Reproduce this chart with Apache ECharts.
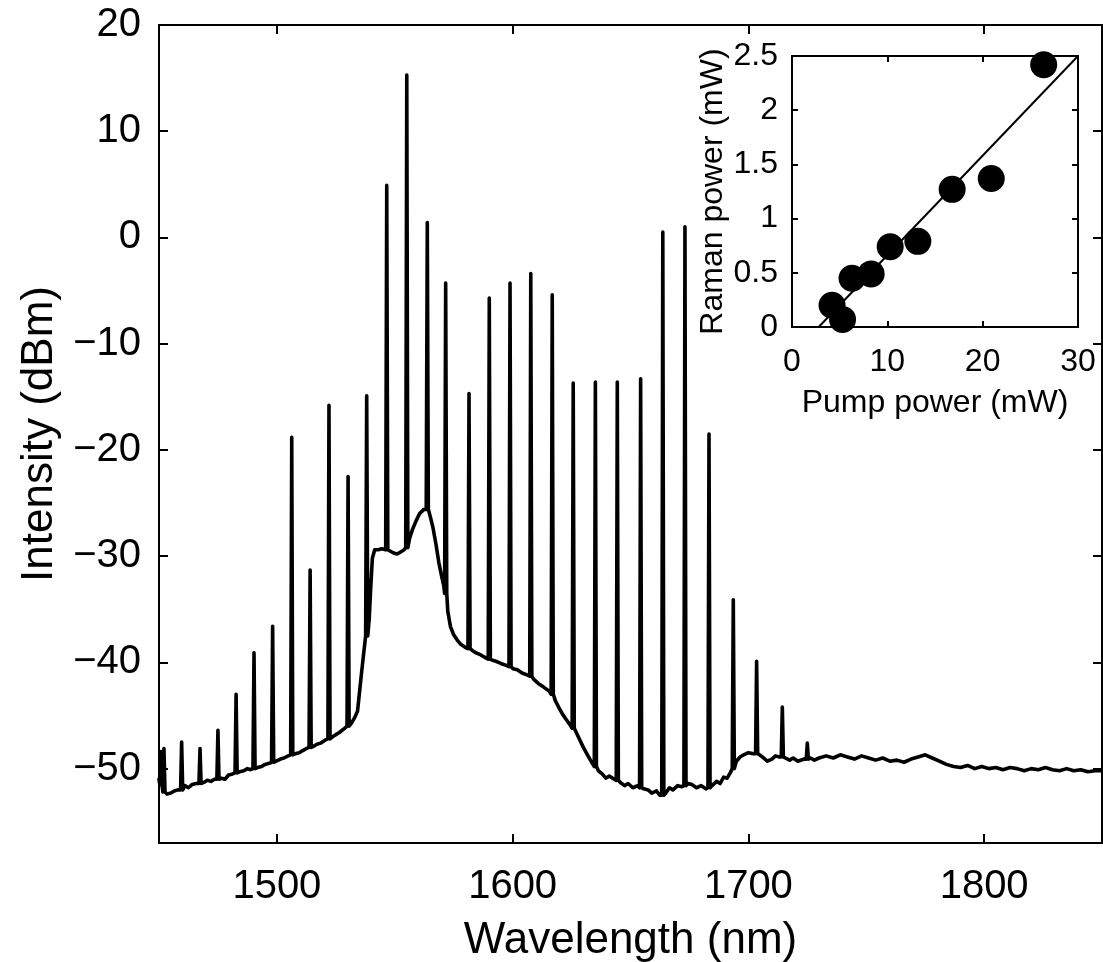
<!DOCTYPE html>
<html><head><meta charset="utf-8">
<script src="https://cdn.jsdelivr.net/npm/echarts@6/dist/echarts.min.js"></script>
<style>html,body{margin:0;padding:0;background:#fff}#c{width:1103px;height:962px}</style>
</head><body><div id="c"></div>
<script>
// Main spectrum: baseline (nm, dBm)
const baseline = [
[1450,-51.0],[1453.4,-52.4],[1455,-52.3],[1456.5,-52.1],[1458,-52.0],[1461,-51.6],[1462.5,-51.8],[1464,-51.5],[1465.8,-51.4],
[1469,-51.3],[1470.5,-51.1],[1472,-51.2],[1473.5,-51.0],[1476.5,-50.9],[1478,-51.0],[1479.5,-50.6],[1481.2,-50.5],
[1484.2,-50.3],[1486,-50.2],[1487.5,-50.0],[1488.8,-50.1],[1491.8,-49.9],[1493.5,-49.8],[1495,-49.6],[1496.7,-49.5],
[1499.7,-49.3],[1501.5,-49.1],[1503,-49.0],[1504.8,-48.8],[1507.8,-48.6],[1509.5,-48.5],[1511,-48.3],[1512.6,-48.1],
[1515.6,-47.9],[1517,-47.7],[1518.5,-47.6],[1520.6,-47.3],[1523.6,-47.0],[1525,-46.8],[1526.5,-46.6],[1528.7,-46.2],
[1531.7,-45.7],[1533,-45.2],[1534.2,-44.6],[1535.2,-42.5],[1536,-40.8],[1537,-38.8],
[1539.2,-35.8],[1539.8,-33.0],[1540.5,-30.2],[1541.5,-29.4],[1543,-29.4],[1544.5,-29.3],
[1547.8,-29.5],[1549.5,-29.7],[1551,-29.8],[1552.5,-29.6],[1554,-29.4],
[1556.3,-28.3],[1557.5,-27.5],[1559,-26.7],[1560.5,-26.0],[1562.4,-25.6],
[1565.1,-26.3],[1566.2,-27.3],[1567.5,-28.9],[1568.7,-30.6],[1569.8,-31.8],[1570.8,-32.8],
[1572.5,-35.2],[1573.6,-36.6],[1575,-37.4],[1576.5,-37.9],[1578,-38.3],[1580,-38.6],
[1583,-38.9],[1584.5,-39.1],[1586.5,-39.3],[1588.8,-39.6],
[1591.4,-39.8],[1593,-39.9],[1595,-40.1],[1597.6,-40.3],
[1600.2,-40.6],[1602,-40.7],[1604,-41.0],[1606.4,-41.2],
[1609,-41.6],[1611,-42.0],[1613,-42.3],[1615.5,-42.7],
[1618.1,-43.6],[1619.5,-44.2],[1621,-44.8],[1622.5,-45.3],[1624.4,-45.9],
[1627,-46.6],[1628.5,-47.3],[1630,-48.0],[1631.5,-48.6],[1633.8,-49.5],
[1636.4,-50.2],[1638,-50.5],[1639.5,-50.9],[1641,-50.7],[1643.1,-51.0],
[1645.7,-51.3],[1647.5,-51.6],[1649,-51.4],[1651,-51.8],[1653,-51.6],
[1655.6,-51.9],[1657.5,-52.0],[1659,-52.3],[1661,-52.1],[1662.4,-52.5],
[1665,-52.3],[1666.5,-51.8],[1668,-52.0],[1670,-51.6],[1671.8,-51.7],
[1674.4,-51.4],[1676,-51.5],[1678,-51.8],[1680,-51.6],[1682,-51.9],
[1684.6,-51.6],[1686.5,-51.2],[1688,-51.4],[1689.5,-50.8],[1691,-50.9],[1692.3,-50.4],
[1694.9,-49.3],[1696.5,-48.9],[1698,-48.7],[1700,-48.5],[1702.2,-48.6],
[1704.8,-48.7],[1706.5,-49.0],[1708,-49.3],[1710,-49.1],[1711.5,-48.8],[1713.1,-48.9],
[1715.7,-49.0],[1717.5,-49.2],[1719,-49.0],[1721,-49.3],[1723.7,-49.1],
[1726.3,-49.0],[1728,-49.2],[1730,-49.0],[1733,-48.8],[1736,-49.0],[1739,-48.7],[1742,-48.9],[1745,-49.1],
[1748,-48.8],[1751,-49.0],[1754,-49.2],[1757,-49.0],[1760,-49.3],[1763,-49.2],[1766,-49.4],[1769,-49.1],
[1772,-48.9],[1775,-48.7],[1778,-49.0],[1781,-49.3],[1784,-49.6],[1787,-49.8],[1790,-49.9],[1793,-49.7],
[1796,-50.0],[1799,-49.8],[1802,-50.0],[1805,-49.9],[1808,-50.1],[1811,-49.9],[1814,-50.0],[1817,-50.2],
[1820,-50.0],[1823,-50.1],[1826,-49.9],[1829,-50.1],[1832,-50.2],[1835,-50.0],[1838,-50.2],[1841,-50.1],
[1844,-50.3],[1847,-50.2],[1850,-50.2]
];
// Spectral lines: [wavelength nm, foot level dBm, peak level dBm]
const peaks = [
[1450.8,-51.5,-48.4],[1452.1,-52.2,-48.1],[1459.6,-52.0,-47.5],[1467.4,-51.4,-48.1],[1475.0,-51.0,-46.4],
[1482.7,-50.4,-43.0],[1490.3,-50.0,-39.1],[1498.2,-49.4,-36.6],[1506.3,-48.7,-18.8],[1514.1,-48.0,-31.3],
[1522.1,-47.2,-15.8],[1530.2,-46.0,-22.5],[1538.1,-37.5,-14.9],[1546.6,-29.4,4.9],[1555.1,-29.2,15.3],
[1563.8,-25.6,1.4],[1571.6,-33.5,-4.3],[1581.5,-38.7,-14.7],[1590.1,-39.7,-5.7],[1598.9,-40.4,-4.3],
[1607.7,-41.3,-3.4],[1616.8,-43.0,-5.4],[1625.7,-46.2,-13.7],[1635.1,-49.8,-13.6],[1644.4,-51.1,-13.6],
[1654.3,-51.8,-13.3],[1663.7,-52.5,0.5],[1673.1,-51.6,1.0],[1683.3,-51.8,-18.5],[1693.6,-50.0,-34.1],
[1703.5,-48.6,-39.9],[1714.4,-48.9,-44.2],[1725.0,-49.1,-47.6]
];
const xTicks = [1500, 1600, 1700, 1800];
const yTicks = [-50, -40, -30, -20, -10, 0, 10, 20];
// Inset
const pumpPower  = [4.2, 5.3, 6.3, 8.3, 10.3, 13.2, 16.8, 20.9, 26.4];
const ramanPower = [0.20, 0.07, 0.45, 0.49, 0.74, 0.79, 1.27, 1.37, 2.42];
const fitLine = [[2.8, 0], [30, 2.5]];

const HW = 0.45; // half width of a line foot (nm)
let pts = baseline.filter(b => !peaks.some(p => Math.abs(b[0]-p[0]) < HW+0.05)).map(b => [b[0], b[1]]);
peaks.forEach(p => { pts.push([p[0]-HW, p[1]]); pts.push([p[0], p[2]]); pts.push([p[0]+HW, p[1]]); });
pts.sort((a,b) => a[0]-b[0]);

const FONT = 'Liberation Sans, Arial, Helvetica, sans-serif';
const minus = v => String(v).replace('-', '\u2212');
const plain = v => String(v);
const axLine = {show:true, onZero:false, lineStyle:{color:'#000', width:2}};

const chart = echarts.init(document.getElementById('c'), null, {renderer:'canvas'});
chart.setOption({
  animation:false,
  backgroundColor:'#fff',
  grid:[
    {left:159, right:1, top:25, bottom:119, containLabel:false, outerBoundsMode:'none', show:true, borderColor:'#000', borderWidth:2, backgroundColor:'transparent'},
    {left:792, top:56, width:286, height:271, containLabel:false, outerBoundsMode:'none', show:true, backgroundColor:'#fff', borderColor:'#000', borderWidth:2}
  ],
  xAxis:[
    {type:'value', gridIndex:0, min:1450, max:1850, position:'bottom', axisLine:axLine,
     axisTick:{inside:true, length:9, customValues:xTicks, lineStyle:{color:'#000', width:2}},
     axisLabel:{customValues:xTicks, fontSize:40, color:'#000', fontFamily:FONT, margin:24, formatter:plain},
     splitLine:{show:false},
     name:'Wavelength (nm)', nameLocation:'middle', nameGap:76,
     nameTextStyle:{fontSize:44, color:'#000', fontFamily:FONT}},
    {type:'value', gridIndex:0, min:1450, max:1850, position:'top', axisLine:axLine,
     axisTick:{inside:true, length:9, customValues:xTicks, lineStyle:{color:'#000', width:2}},
     axisLabel:{show:false}, splitLine:{show:false}},
    {type:'value', gridIndex:1, min:0, max:30, interval:10, position:'bottom', axisLine:axLine,
     axisTick:{inside:true, length:6, lineStyle:{color:'#000', width:2}},
     axisLabel:{fontSize:32, color:'#000', fontFamily:FONT, margin:19},
     splitLine:{show:false},
     name:'Pump power (mW)', nameLocation:'middle', nameGap:60,
     nameTextStyle:{fontSize:32, color:'#000', fontFamily:FONT}},
    {type:'value', gridIndex:1, min:0, max:30, interval:10, position:'top', axisLine:axLine,
     axisTick:{inside:true, length:6, lineStyle:{color:'#000', width:2}},
     axisLabel:{show:false}, splitLine:{show:false}}
  ],
  yAxis:[
    {type:'value', gridIndex:0, min:-57, max:20, position:'left', axisLine:axLine,
     axisTick:{inside:true, length:9, customValues:yTicks, lineStyle:{color:'#000', width:2}},
     axisLabel:{customValues:yTicks, fontSize:40, color:'#000', fontFamily:FONT, margin:18, formatter:minus},
     splitLine:{show:false},
     name:'Intensity (dBm)', nameLocation:'middle', nameGap:97,
     nameTextStyle:{fontSize:44, color:'#000', fontFamily:FONT}},
    {type:'value', gridIndex:0, min:-57, max:20, position:'right', axisLine:axLine,
     axisTick:{inside:true, length:9, customValues:yTicks, lineStyle:{color:'#000', width:2}},
     axisLabel:{show:false}, splitLine:{show:false}},
    {type:'value', gridIndex:1, min:0, max:2.5, interval:0.5, position:'left', axisLine:axLine,
     axisTick:{inside:true, length:6, lineStyle:{color:'#000', width:2}},
     axisLabel:{fontSize:32, color:'#000', fontFamily:FONT, margin:14},
     splitLine:{show:false},
     name:'Raman power (mW)', nameLocation:'middle', nameGap:60,
     nameTextStyle:{fontSize:32, color:'#000', fontFamily:FONT}},
    {type:'value', gridIndex:1, min:0, max:2.5, interval:0.5, position:'right', axisLine:axLine,
     axisTick:{inside:true, length:6, lineStyle:{color:'#000', width:2}},
     axisLabel:{show:false}, splitLine:{show:false}}
  ],
  series:[
    {type:'line', xAxisIndex:0, yAxisIndex:0, data:pts, showSymbol:false, symbol:'none',
     lineStyle:{color:'#000', width:3.6, join:'round', cap:'round'}, z:2},
    {type:'line', xAxisIndex:2, yAxisIndex:2, data:fitLine, showSymbol:false, symbol:'none',
     lineStyle:{color:'#000', width:2}, z:3},
    {type:'scatter', xAxisIndex:2, yAxisIndex:2, data:pumpPower.map((p,i)=>[p, ramanPower[i]]),
     symbol:'circle', symbolSize:27, itemStyle:{color:'#000', opacity:1}, clip:false, z:4}
  ]
});
</script></body></html>
